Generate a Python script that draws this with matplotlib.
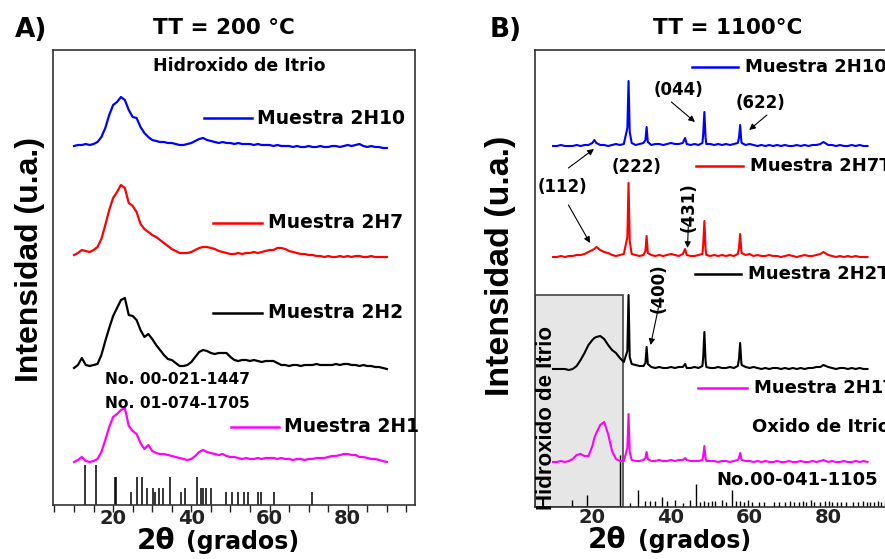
import numpy as np
import matplotlib
matplotlib.use('Agg')
import matplotlib.pyplot as plt
from matplotlib.patches import Rectangle

# ---- panel A data (TT = 200 C), heights above each curve's baseline ----
A_2theta = list(range(10, 91))
A_2H10 = [-1, 0, 0, 1, 0, 1, 3, 8, 17, 30,
          40, 43, 48, 45, 35, 28, 27, 18, 12, 8,
          5, 4, 3, 3, 2, 2, 1, 0, 0, 1,
          2, 4, 6, 7, 5, 4, 3, 2, 3, 2,
          2, 1, 2, 1, 1, 1, 0, 1, 0, 0,
          0, -1, 0, -1, -1, -1, -2, -1, -2, -2,
          -1, -2, -2, -1, -2, -2, -1, -1, -2, -1,
          0, -1, 0, 1, -1, -2, -1, -2, -2, -3,
          -3]
A_2H7 = [0, 2, 5, 4, 3, 5, 8, 16, 30, 45,
         57, 63, 70, 67, 52, 49, 43, 31, 26, 23,
         20, 18, 15, 12, 9, 6, 4, 2, 2, 2,
         3, 5, 7, 8, 8, 7, 6, 4, 3, 2,
         1, 1, 2, 1, 2, 2, 3, 2, 3, 4,
         5, 5, 7, 7, 6, 4, 3, 2, 1, 1,
         0, 0, -1, -1, -2, -1, -2, -2, -1, -2,
         -1, -2, -1, -1, -2, -2, -1, -2, -2, -2,
         -2]
A_2H2 = [0, 3, 10, 3, 2, 3, 4, 13, 27, 40,
         52, 60, 68, 70, 53, 52, 48, 38, 31, 34,
         29, 23, 18, 13, 9, 8, 5, 2, 2, 3,
         6, 11, 16, 18, 17, 15, 14, 15, 15, 15,
         11, 8, 7, 8, 8, 7, 8, 7, 6, 7,
         7, 7, 5, 3, 3, 2, 3, 3, 2, 3,
         3, 3, 4, 3, 3, 3, 3, 4, 3, 4,
         4, 3, 3, 2, 3, 2, 2, 1, 1, 0,
         -1]
A_2H1 = [0, 2, 5, 1, 0, 1, 3, 10, 22, 35,
         45, 48, 52, 54, 36, 31, 28, 19, 13, 17,
         11, 9, 8, 8, 7, 6, 5, 4, 3, 2,
         3, 6, 10, 12, 10, 9, 8, 7, 8, 6,
         5, 5, 4, 3, 4, 3, 3, 4, 3, 4,
         4, 4, 3, 4, 3, 3, 2, 3, 3, 2,
         3, 3, 4, 4, 4, 5, 6, 6, 7, 8,
         8, 7, 7, 5, 5, 4, 3, 3, 2, 1,
         0]
A_series = [A_2H10, A_2H7, A_2H2, A_2H1]
A_base = [360, 250, 137, 43]
A_labels = ['Muestra 2H10', 'Muestra 2H7', 'Muestra 2H2', 'Muestra 2H1']
colors = ['#0000ff', '#ff0000', '#000000', '#ff00ff']

# reference pattern sticks (No. 00-021-1447 / 01-074-1705)
A_ref_2theta = [12.8, 15.6, 20.6, 20.8, 24.6, 26.0, 27.3, 28.7, 30.1, 30.8, 31.8,
                32.8, 34.5, 37.4, 38.4, 41.5, 42.5, 42.9, 43.7, 45.0, 48.8,
                50.4, 51.9, 53.5, 54.6, 57.0, 57.7, 61.1, 70.9]
A_ref_h = [40, 40, 28, 28, 13, 28, 28, 17, 17, 13, 17,
           17, 28, 13, 17, 28, 17, 17, 17, 17, 13,
           13, 13, 13, 13, 13, 13, 13, 13]

# ---- panel B data (TT = 1100 C) ----
B_2theta = [10, 11, 12, 13, 14, 15, 16, 17, 18, 19,
            20, 20.5, 21, 22, 23, 24, 25, 26, 27, 28,
            28.9, 29.2, 29.5, 30, 31, 32, 33, 33.5, 33.8, 34.1,
            35, 36, 37, 38, 39, 40, 41, 42, 43, 43.6,
            44, 45, 46, 47, 48, 48.2, 48.5, 48.8, 49, 50,
            51, 52, 53, 54, 55, 56, 57, 57.3, 57.6, 57.9,
            58, 59, 60, 61, 62, 63, 64, 65, 66, 67,
            68, 69, 70, 71, 72, 73, 74, 75, 76, 77,
            78, 78.8, 80, 81, 82, 83, 84, 85, 86, 87,
            88, 89, 90]
B_2H10T = [0, 0, 1, 0, 0, 0, 1, 0, 1, 1,
           3, 6, 3, 1, 1, 0, 1, 2, 1, 2,
           18, 65, 14, 3, 1, 2, 3, 6, 19, 4,
           1, 2, 2, 1, 2, 3, 2, 2, 3, 8,
           2, 1, 2, 1, 3, 12, 34, 8, 2, 2,
           1, 2, 1, 2, 1, 2, 3, 8, 21, 5,
           3, 1, 2, 1, 0, 1, 0, 1, 0, 1,
           0, 1, 0, 0, 1, 0, 1, 0, 1, 1,
           2, 4, 1, 1, 0, 1, 0, 0, 1, 0,
           1, 0, 0]
B_2H7T = [0, 0, 1, 0, 1, 1, 2, 2, 3, 5,
          7, 8, 10, 7, 5, 4, 2, 1, 2, 3,
          20, 74, 16, 3, 2, 1, 2, 6, 21, 4,
          2, 1, 2, 1, 2, 3, 2, 1, 3, 8,
          2, 1, 1, 2, 3, 12, 36, 8, 2, 1,
          2, 1, 2, 1, 2, 1, 3, 9, 23, 6,
          4, 2, 3, 1, 2, 1, 1, 2, 1, 1,
          0, 1, 2, 1, 0, 1, 2, 1, 1, 2,
          3, 5, 2, 1, 0, 1, 0, 1, 0, 1,
          0, 0, 0]
B_2H2T = [0, 0, 0, 0, -1, 0, 3, 9, 16, 24,
          29, 31, 32, 33, 30, 24, 19, 16, 11, 7,
          18, 74, 12, 5, 4, 3, 3, 6, 22, 5,
          2, 1, 2, 1, 1, 2, 1, 2, 2, 5,
          1, 1, 2, 1, 3, 12, 37, 8, 2, 1,
          1, 2, 1, 1, 2, 1, 3, 10, 26, 6,
          4, 2, 1, 2, 1, 0, 1, 0, 1, 1,
          0, 1, 0, 1, 0, 1, 0, 1, 1, 2,
          2, 4, 2, 1, 0, 1, 1, 0, 1, 0,
          1, 0, 0]
B_2H1T = [0, 0, 1, 0, 1, 3, 7, 8, 6, 6,
          16, 24, 29, 37, 40, 28, 11, 3, 1, 1,
          14, 48, 10, 2, 1, 1, 2, 4, 10, 3,
          1, 1, 2, 1, 1, 2, 1, 2, 2, 4,
          2, 1, 1, 1, 2, 6, 16, 4, 1, 1,
          1, 0, 1, 1, 0, 1, 2, 4, 9, 3,
          2, 1, 1, 0, 1, 0, 1, 0, 0, 1,
          0, 0, 1, 0, 0, 1, 0, 0, 1, 0,
          1, 2, 0, 1, 0, 0, 1, 0, 0, 1,
          0, 1, 0]
B_series = [B_2H10T, B_2H7T, B_2H2T, B_2H1T]
B_base = [361, 250, 138, 45]
B_labels = ['Muestra 2H10T', 'Muestra 2H7T', 'Muestra 2H2T', 'Muestra 2H1T']

# Y2O3 pattern No.00-041-1105
B_ref_2theta = [14.7, 18.6, 27.1, 29.6, 31.5, 33.4, 34.7, 36.0, 37.7, 38.9,
                41.0, 43.0, 44.9, 46.4, 47.4, 48.4, 49.3, 50.4, 51.3, 53.0,
                53.9, 55.6, 56.6, 57.5, 58.5, 59.6, 60.6, 62.3, 63.6, 66.3,
                67.6, 68.9, 70.2, 71.4, 72.7, 73.5, 74.4, 75.6, 76.5, 77.8,
                79.2, 80.1, 81.0, 82.3, 83.2, 84.5, 86.4, 87.6, 88.8, 89.8,
                90.7, 91.6, 92.6, 93.5, 94.5, 95.4]
B_ref_h = [7, 12, 52, 4, 17, 6, 6, 6, 10, 6,
           7, 4, 7, 23, 5, 6, 5, 6, 6, 7,
           5, 17, 6, 6, 5, 7, 5, 5, 5, 5,
           5, 5, 6, 5, 5, 6, 5, 7, 5, 5,
           6, 6, 5, 5, 5, 5, 5, 5, 6, 5,
           5, 5, 6, 5, 5, 5]

plt.rcParams['font.family'] = 'DejaVu Sans'
plt.rcParams['font.weight'] = 'bold'

W, H = 885, 559
fig = plt.figure(figsize=(W / 100, H / 100), dpi=100)


def fx(px):
    return px / W


def fy(py):
    return 1 - py / H


axA = fig.add_axes([fx(53.3), fy(505), (415 - 53.3) / W, (505 - 50) / H])
axB = fig.add_axes([fx(535), fy(507), (895 - 535) / W, (507 - 50) / H])

# ---------------- panel A ----------------
axA.vlines(A_ref_2theta, 0, A_ref_h, color='k', lw=1.1)
for vals, base, c in zip(A_series, A_base, colors):
    axA.plot(A_2theta, np.array(vals) + base, color=c, lw=1.6)

A_leg = [(43.3, 55.5, 387), (45.5, 58.1, 282), (45.5, 58.1, 192), (50.2, 62.4, 78)]
for (x0, x1, y), lab, c in zip(A_leg, A_labels, colors):
    axA.plot([x0, x1], [y, y], color=c, lw=1.8)
    axA.text(x1 + 1.4, y, lab, fontsize=13.5, va='center', ha='left')

axA.text(52.2, 439, 'Hidroxido de Itrio', fontsize=12.5, ha='center', va='center')
axA.text(17.9, 126, 'No. 00-021-1447', fontsize=11.2, ha='left', va='center')
axA.text(17.9, 102, 'No. 01-074-1705', fontsize=11.2, ha='left', va='center')

axA.set_xlim(4.7, 97.2)
axA.set_ylim(0, 455)
axA.set_yticks([])
axA.set_xticks([20, 40, 60, 80])
axA.set_xticks(range(5, 100, 5), minor=True)
axA.tick_params(axis='x', which='both', direction='out', length=5, width=1,
                labelsize=14, pad=-2, colors='#222222')
for s in axA.spines.values():
    s.set_linewidth(1.2)
    s.set_color('#333333')

# ---------------- panel B ----------------
axB.add_patch(Rectangle((5.4, 0), 27.7 - 5.4, 212, facecolor='#e6e6e6',
                        edgecolor='#444444', lw=1.2, zorder=0.5))
axB.vlines(B_ref_2theta, 0, B_ref_h, color='k', lw=1.0)
for vals, base, c in zip(B_series, B_base, colors):
    axB.plot(B_2theta, np.array(vals) + base, color=c, lw=1.5)

B_leg = [(45.3, 57.1, 440), (46.4, 58.3, 341), (46.1, 57.8, 233), (46.9, 59.3, 119)]
for (x0, x1, y), lab, c in zip(B_leg, B_labels, colors):
    axB.plot([x0, x1], [y, y], color=c, lw=1.8, clip_on=False)
    axB.text(x1 + 1.7, y, lab, fontsize=13, va='center', ha='left', clip_on=False)

axB.text(60.5, 80, 'Oxido de Itrio', fontsize=13, ha='left', va='center')
axB.text(51.6, 27, 'No.00-041-1105', fontsize=13, ha='left', va='center')
axB.text(8.2, 88.5, 'Hidroxido de Itrio', rotation=90, fontsize=16,
         family='Liberation Sans', ha='center', va='center', clip_on=False)

arrow = dict(arrowstyle='-|>', color='k', lw=0.8, mutation_scale=9,
             shrinkA=0, shrinkB=0)
axB.text(42.0, 417, '(044)', fontsize=12, ha='center', va='center')
axB.annotate('', xy=(46.1, 385), xytext=(40.1, 405), arrowprops=arrow)
axB.text(62.7, 404, '(622)', fontsize=12, ha='center', va='center')
axB.annotate('', xy=(59.9, 377), xytext=(64.4, 392), arrowprops=arrow)
axB.text(31.3, 340, '(222)', fontsize=12, ha='center', va='center')
axB.text(12.5, 320, '(112)', fontsize=12, ha='center', va='center')
axB.annotate('', xy=(20.4, 358), xytext=(13.9, 339), arrowprops=arrow)
axB.annotate('', xy=(19.4, 264), xytext=(13.9, 302), arrowprops=arrow)
axB.text(44.4, 300, '(431)', fontsize=12, rotation=90, ha='center', va='center')
axB.annotate('', xy=(44.2, 259), xytext=(44.4, 280), arrowprops=arrow)
axB.text(36.8, 219, '(400)', fontsize=12, rotation=90, ha='center', va='center')
axB.annotate('', xy=(34.8, 162), xytext=(36.8, 199), arrowprops=arrow)

axB.set_xlim(5.4, 97)
axB.set_ylim(0, 457)
axB.set_yticks([])
axB.set_xticks([20, 40, 60, 80])
axB.tick_params(axis='x', length=0, pad=1, labelsize=14, colors='#222222')
for s in axB.spines.values():
    s.set_linewidth(1.2)
    s.set_color('#333333')

# ---------------- figure labels ----------------
fig.text(fx(15), fy(30), 'A)', fontsize=19, ha='left', va='center')
fig.text(fx(224), fy(28), 'TT = 200 °C', fontsize=15.5, ha='center', va='center')
fig.text(fx(490), fy(30), 'B)', fontsize=19, ha='left', va='center')
fig.text(fx(727.5), fy(28), 'TT = 1100°C', fontsize=15.5, ha='center', va='center')

fig.text(fx(30), fy(260), 'Intensidad (u.a.)', rotation=90, fontsize=23,
         family='Liberation Sans', ha='center', va='center')
fig.text(fx(501), fy(266), 'Intensidad (u.a.)', rotation=90, fontsize=24.5,
         family='Liberation Sans', ha='center', va='center')

fig.text(fx(137), fy(549), '2θ', fontsize=20, ha='left', va='baseline')
fig.text(fx(186), fy(549), '(grados)', fontsize=17, ha='left', va='baseline')
fig.text(fx(588), fy(548), '2θ', fontsize=20, ha='left', va='baseline')
fig.text(fx(638), fy(548), '(grados)', fontsize=17, ha='left', va='baseline')

fig.savefig('out.png', dpi=100)
